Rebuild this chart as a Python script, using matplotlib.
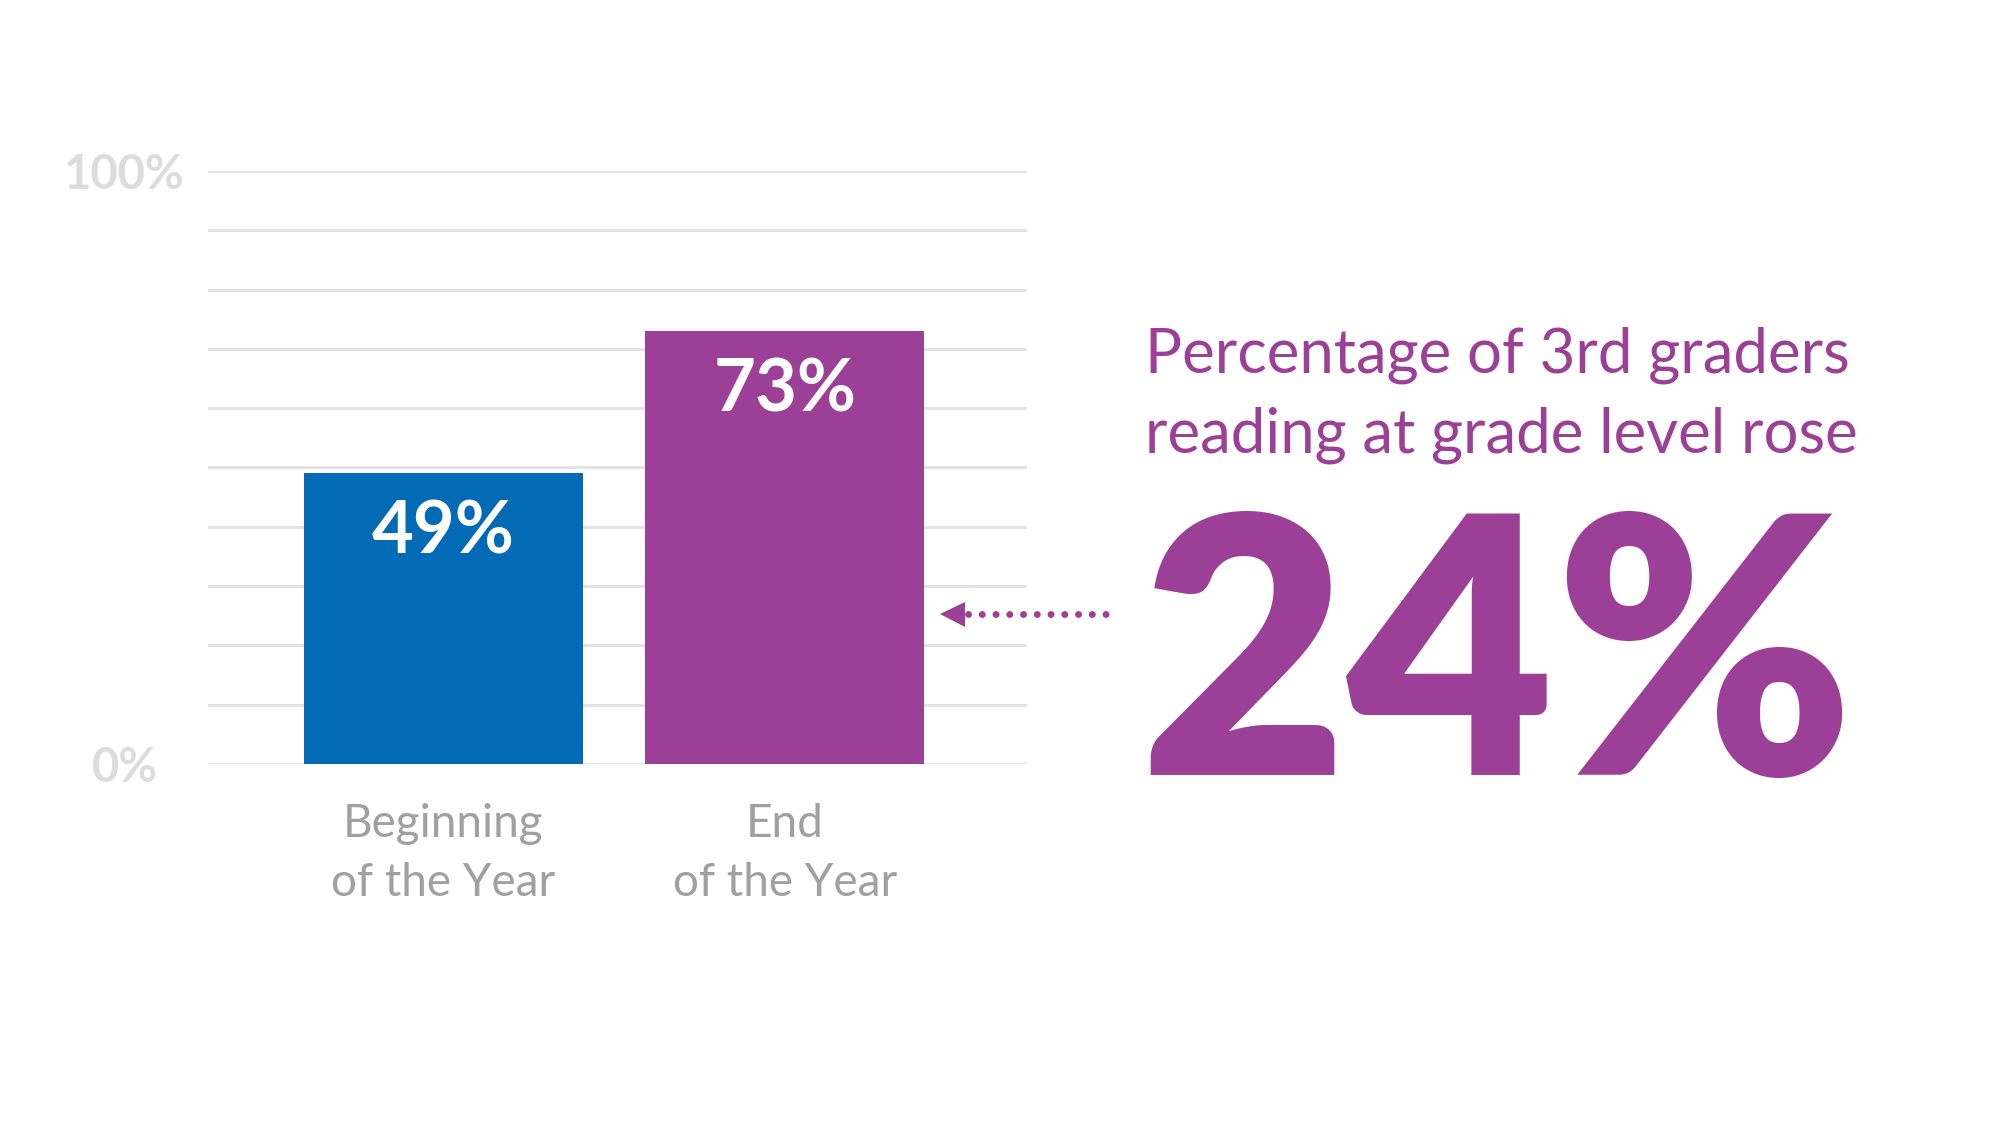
import matplotlib
matplotlib.use("Agg")
import matplotlib.pyplot as plt
from matplotlib.lines import Line2D

# data
categories = ["Beginning\nof the Year", "End\nof the Year"]
values = [49, 73]
bar_colors = ["#036bb5", "#9c3f97"]
ytick_values = list(range(0, 101, 10))
ytick_labels = ["0%", "", "", "", "", "", "", "", "", "", "100%"]
headline = "Percentage of 3rd graders\nreading at grade level rose"
change = "24%"

purple = "#9c3f97"
plt.rcParams["font.family"] = ["Lato", "DejaVu Sans"]

fig = plt.figure(figsize=(20, 11.25), dpi=100)
# axes bottom at the 0% line, top at 100%
ax = fig.add_axes([0.104, 0.321, 0.4095, 0.527])

x = list(range(len(values)))
bars = ax.bar(x, values, width=0.817, color=bar_colors, zorder=3)

for xi, v in zip(x, values):
    ax.annotate(f"{v}%", (xi, v), xytext=(0, -43), textcoords="offset points",
                ha="center", va="center", color="white",
                fontsize=52, fontweight="bold", zorder=4)

ax.set_xlim(-0.690, 1.709)
ax.set_ylim(0, 100)
ax.set_yticks(ytick_values)
ax.set_yticklabels(ytick_labels, fontsize=34, color="#dcdcdc", fontweight="bold")
for lab in ax.get_yticklabels():
    lab.set_ha("center")
    lab.set_va("center_baseline")
ax.tick_params(axis="y", length=0, pad=60)

ax.set_xticks(x)
ax.set_xticklabels(categories, fontsize=33, color="#a0a0a0", linespacing=1.5)
ax.tick_params(axis="x", length=0, pad=28)

ax.grid(True, axis="y", color="#e3e3e3", linewidth=2.2, zorder=0)
for s in ax.spines.values():
    s.set_visible(False)

# arrow pointing at the bars
y_arrow = 1 - 614 / 1125
dots = Line2D([968 / 2000, 1106 / 2000], [y_arrow, y_arrow], transform=fig.transFigure,
              color=purple, linewidth=5.0, linestyle=(0, (0.01, 1.97)),
              dash_capstyle="round")
fig.add_artist(dots)
head = Line2D([952 / 2000], [y_arrow], transform=fig.transFigure, marker="<",
              markersize=18, color=purple, markeredgewidth=0)
fig.add_artist(head)

# right hand callout
fig.text(0.5725, 1 - 395 / 1125, headline, ha="left", va="center", color=purple,
         fontsize=44.5, linespacing=1.5)
fig.text(0.7485, 1 - 775 / 1125, change, ha="center", va="baseline", color=purple,
         fontsize=258, fontweight="heavy")

fig.savefig("out.png", dpi=100, facecolor="white")
